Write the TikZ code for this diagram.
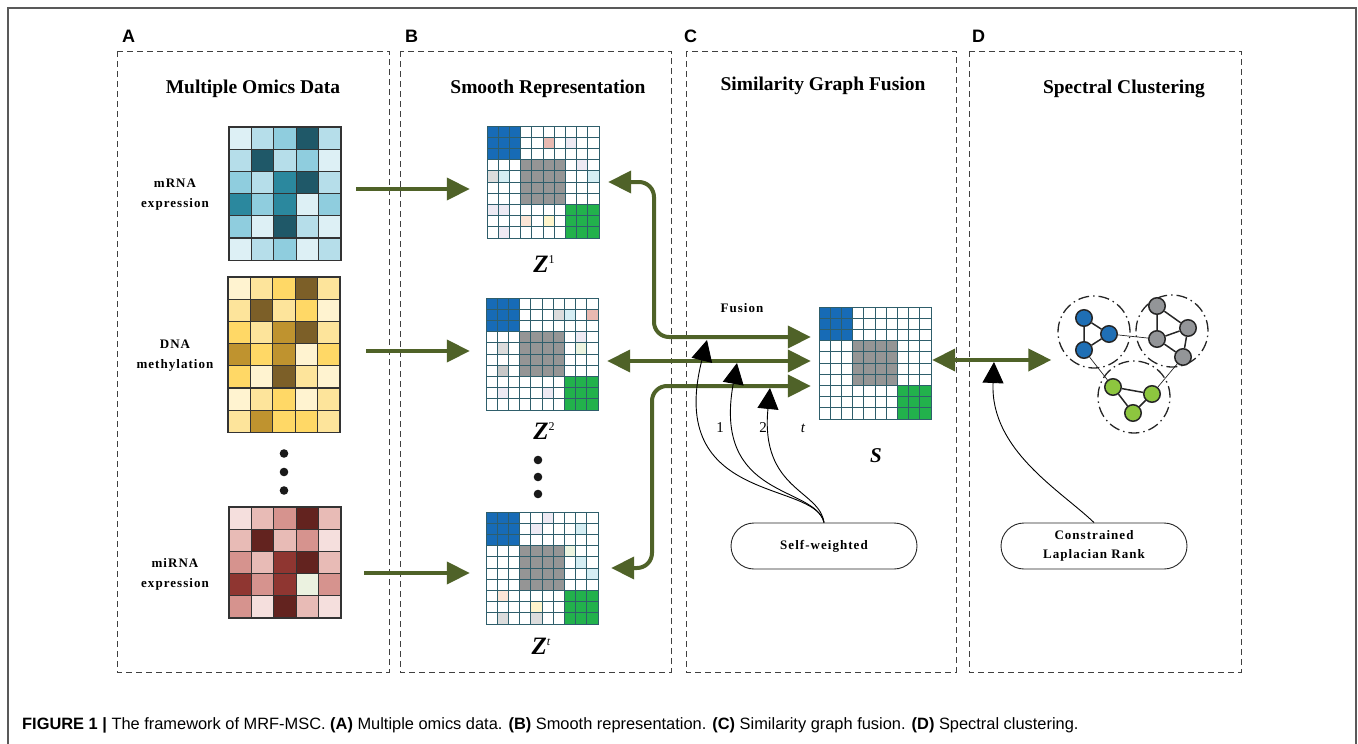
\documentclass[tikz,border=0pt]{standalone}
\usepackage{fontspec}
\setmainfont{Liberation Serif}
\newfontfamily\capfont{Liberation Sans}
\newfontfamily\spfont[LetterSpace=8]{Liberation Serif}
\usetikzlibrary{arrows.meta,shapes.misc}
\definecolor{olivec}{HTML}{4F6228}
\definecolor{gridc}{HTML}{2F5E6B}
\definecolor{mblue}{HTML}{176BB6}
\definecolor{mgray}{HTML}{959595}
\definecolor{mgreen}{HTML}{22B14C}
\definecolor{tA}{HTML}{DDF0F5}\definecolor{tB}{HTML}{B6DEEA}\definecolor{tC}{HTML}{8FCDDE}
\definecolor{tD}{HTML}{2B889E}\definecolor{tE}{HTML}{1F5868}
\definecolor{yA}{HTML}{FFF3D0}\definecolor{yB}{HTML}{FDE49B}\definecolor{yC}{HTML}{FFD866}
\definecolor{yD}{HTML}{BF932F}\definecolor{yE}{HTML}{7C5F28}
\definecolor{rA}{HTML}{F5DFDD}\definecolor{rB}{HTML}{E8BBB6}\definecolor{rC}{HTML}{D6938E}
\definecolor{rD}{HTML}{8F3631}\definecolor{rE}{HTML}{63231F}\definecolor{rF}{HTML}{EBF2E0}
\definecolor{fP}{HTML}{E8B9B1}\definecolor{fL}{HTML}{EEEAF3}\definecolor{fG}{HTML}{DCDCDC}
\definecolor{fC}{HTML}{D6EEF4}\definecolor{fE}{HTML}{FBE5D6}\definecolor{fY}{HTML}{FFF5CC}
\definecolor{fN}{HTML}{EDF4E0}\definecolor{fH}{HTML}{C8C8C8}
\definecolor{nblue}{HTML}{1F6FB5}\definecolor{ngray}{HTML}{939598}\definecolor{ngreen}{HTML}{8DC63F}
\tikzset{
 panel/.style={draw=black!75, dash pattern=on 6pt off 4pt, line width=0.9pt},
 panlab/.style={font=\capfont\bfseries\fontsize{18}{20}\selectfont, anchor=base west, inner sep=0},
 ttl/.style={font=\bfseries\fontsize{19.5}{22}\selectfont, anchor=base, inner sep=0},
 lab/.style={font=\spfont\bfseries\fontsize{13}{20}\selectfont, align=center, inner sep=0},
 hcell/.style={draw=black!80, line width=1.2pt},
 mcell/.style={draw=gridc, line width=1pt},
 fuse/.style={draw=olivec, line width=4pt, {Triangle[length=23pt,width=22pt]}-{Triangle[length=23pt,width=22pt]}, rounded corners=15pt},
 bigarr/.style={draw=olivec, line width=4pt, -{Triangle[length=23pt,width=22pt]}},
 thinarr/.style={draw=black, line width=0.9pt, -{Triangle[length=21pt,width=21pt]}},
 gn/.style={circle, draw=black!85, line width=1.5pt, minimum size=16.5pt, inner sep=0},
 gedge/.style={draw=black!85, line width=1.5pt},
 xedge/.style={draw=black!85, line width=0.7pt},
 cl/.style={circle, draw=black!85, line width=1.3pt, dash pattern=on 11pt off 4pt on 1.5pt off 4pt, minimum size=72pt, inner sep=0},
 zl/.style={inner sep=0, anchor=base},
 pill/.style={rounded rectangle, draw=black!85, line width=0.9pt, minimum width=186pt, minimum height=46pt, inner sep=0, font=\spfont\bfseries\fontsize{13}{19}\selectfont, align=center},
 dotc/.style={fill=black!90},
}
\newcommand\hmap[5]{%
 \foreach \rw [count=\r from 0] in {#5} {
   \foreach \cc [count=\k from 0] in \rw {
     \filldraw[hcell, fill=\cc] (#2+\k*22.4, #3+\r*22.2) rectangle ++(22.4,22.2);
   }
 }
 \node[inner sep=0, minimum width=112pt, minimum height=#4*22.2pt] (#1) at (#2+56, #3+#4*11.1) {};
}
\newcommand\smat[4]{%
 \begin{scope}[shift={(#2,#3)}]
  \fill[white] (0,0) rectangle (112,112);
  \fill[mblue] (0,0) rectangle (33.6,33.6);
  \fill[mgray] (33.6,33.6) rectangle (78.4,78.4);
  \fill[mgreen] (78.4,78.4) rectangle (112,112);
  \foreach \cc/\rr/\col in {#4} {\fill[\col] ({(\cc-1)*11.2},{(\rr-1)*11.2}) rectangle ++(11.2,11.2);}
  \foreach \i in {0,...,9} {\foreach \j in {0,...,9} {\draw[mcell] (\i*11.2,\j*11.2) rectangle ++(11.2,11.2);}}
 \end{scope}
 \node[inner sep=0, minimum size=112pt] (#1) at (#2+56,#3+56) {};
}
\newcommand\zfnt{\bfseries\itshape\fontsize{25}{25}\selectfont}
\newcommand\supfnt{\fontsize{12}{12}\selectfont}
\begin{document}
\begin{tikzpicture}[x=1pt,y=-1pt]
\useasboundingbox (0,0) rectangle (1358,744);
% outer frame
\draw[black!65, line width=1.5pt] (8,744) -- (8,8) -- (1356,8) -- (1356,744);
% panels
\draw[panel] (117,51) rectangle (389,672);
\draw[panel] (400,51) rectangle (671,672);
\draw[panel] (686,51) rectangle (956,672);
\draw[panel] (969,51) rectangle (1241,672);
\node[panlab] (la) at (122,42) {A};
\node[panlab] (lb) at (405,42) {B};
\node[panlab] (lc) at (684,42) {C};
\node[panlab] (ld) at (972,42) {D};
\node[ttl] (ta) at (253,93) {Multiple Omics Data};
\node[ttl] (tb) at (548,93) {Smooth Representation};
\node[ttl] (tc) at (823,90) {Similarity Graph Fusion};
\node[ttl] (td) at (1124,93) {Spectral Clustering};
% heatmaps
\hmap{h1}{229}{127}{6}{{tA,tB,tC,tE,tB},{tB,tE,tB,tC,tA},{tC,tB,tD,tE,tB},{tD,tC,tD,tA,tC},{tC,tA,tE,tB,tA},{tA,tB,tC,tA,tB}}
\hmap{h2}{228}{277}{7}{{yA,yB,yC,yE,yB},{yB,yE,yB,yC,yA},{yC,yB,yD,yE,yB},{yD,yC,yD,yA,yC},{yC,yA,yE,yB,yA},{yA,yB,yC,yA,yB},{yB,yD,yC,yC,yB}}
\hmap{h3}{229}{507}{5}{{rA,rB,rC,rE,rB},{rB,rE,rB,rC,rA},{rC,rB,rD,rE,rB},{rD,rC,rD,rF,rC},{rC,rA,rE,rB,rA}}
\node[lab] (l1) at (175,195) {mRNA\\expression};
\node[lab] (l2) at (175,356) {DNA\\methylation};
\node[lab] (l3) at (175,574) {miRNA\\expression};
\fill[dotc] (284,453.5) circle (4.3) (284,472) circle (4.3) (284,490.5) circle (4.3);
% smooth matrices
\smat{z1}{487}{126}{6/2/fP,8/2/fL,9/4/fL,1/5/fG,2/5/fC,10/5/fC,1/8/fL,2/8/fL,4/9/fE,6/9/fY,2/10/fL}
\smat{z2}{486}{298}{7/2/fG,8/2/fC,10/2/fP,9/4/fL,2/5/fG,9/5/fN,2/7/fH,2/9/fL,6/9/fL}
\smat{zt}{486}{512}{6/1/fL,5/2/fL,9/2/fC,8/4/fN,9/5/fC,10/6/fC,2/8/fE,5/9/fY,2/10/fG,5/10/fG}
\smat{s}{819}{307}{1/1/mblue}
\node[zl] (zl1) at (544,272) {{\zfnt Z}\raisebox{9pt}{\supfnt 1}};
\node[zl] (zl2) at (544,439) {{\zfnt Z}\raisebox{9pt}{\supfnt 2}};
\node[zl] (zl3) at (541,654) {{\zfnt Z}\raisebox{9pt}{\supfnt\itshape t}};
\node[zl] (sl) at (876,462) {\bfseries\itshape\fontsize{21}{21}\selectfont S};
\fill[dotc] (538,460) circle (4.3) (538,477) circle (4.3) (538,494) circle (4.3);
% A -> B arrows
\coordinate (a1) at (356,189);
\coordinate (a2) at (366,351);
\coordinate (a3) at (364,573);
\draw[bigarr, shorten >=17pt] (a1) -- (a1 -| z1.west);
\draw[bigarr, shorten >=16pt] (a2) -- (a2 -| z2.west);
\draw[bigarr, shorten >=16pt] (a3) -- (a3 -| zt.west);
% B <-> C arrows
\coordinate (v1) at (654,337);
\coordinate (v2) at (0,361);
\coordinate (v3) at (652,386);
\draw[fuse, shorten <=9pt, shorten >=8pt] (z1.east) -| (v1) -- (v1 -| s.west);
\draw[fuse, shorten <=9pt, shorten >=8pt] (z2.east |- v2) -- (s.west |- v2);
\draw[fuse, shorten <=13pt, shorten >=8pt] (zt.east) -| (v3) -- (v3 -| s.west);
\node[font=\spfont\bfseries\fontsize{13}{13}\selectfont, anchor=base, inner sep=0] (fu) at (742,312) {Fusion};
% C <-> D
\node[cl] (cb) at (1094,332) {};
\node[cl] (cg) at (1172,331) {};
\node[cl] (cn) at (1134,397) {};
\coordinate (v4) at (0,360);
\draw[fuse, shorten <=1pt, shorten >=6pt] (s.east |- v4) -- (cb.west |- v4);
% self-weighted
\node[pill] (sw) at (824,546) {Self-weighted};
\coordinate (f1) at (707,340);
\coordinate (f2) at (737,363);
\coordinate (f3) at (770,388);
\draw[thinarr] (sw.north) .. controls (815,480) and (665,505) .. (f1);
\draw[thinarr] (sw.north) .. controls (815,485) and (712,500) .. (f2);
\draw[thinarr] (sw.north) .. controls (820,490) and (760,490) .. (f3);
\node[font=\fontsize{15}{15}\selectfont, anchor=base, inner sep=0] (n1) at (720,432) {1};
\node[font=\fontsize{15}{15}\selectfont, anchor=base, inner sep=0] (n2) at (763,432) {2};
\node[font=\itshape\fontsize{15}{15}\selectfont, anchor=base, inner sep=0] (n3) at (803,432) {t};
% constrained laplacian rank
\node[pill] (clr) at (1094,546) {Constrained\\Laplacian Rank};
\coordinate (f4) at (994,362);
\draw[thinarr] (clr.north) .. controls (1060,490) and (990,450) .. (f4);
% graph
\node[gn, fill=nblue] (b1) at (1084,318) {};
\node[gn, fill=nblue] (b2) at (1109,334) {};
\node[gn, fill=nblue] (b3) at (1084,350) {};
\node[gn, fill=ngray] (g1) at (1157,306) {};
\node[gn, fill=ngray] (g2) at (1188,328) {};
\node[gn, fill=ngray] (g3) at (1157,339) {};
\node[gn, fill=ngray] (g4) at (1183,357) {};
\node[gn, fill=ngreen] (e1) at (1113,387) {};
\node[gn, fill=ngreen] (e2) at (1152,394) {};
\node[gn, fill=ngreen] (e3) at (1133,413) {};
\draw[gedge] (b1) -- (b2) (b2) -- (b3) (b1) -- (b3);
\draw[gedge] (g1) -- (g2) (g1) -- (g3) (g3) -- (g2) (g3) -- (g4) (g2) -- (g4);
\draw[gedge] (e1) -- (e2) (e1) -- (e3) (e2) -- (e3);
\draw[xedge] (b2) -- (g3) (b3) -- (e1) (g4) -- (e2);
% caption
\node[anchor=base west, inner sep=0, font=\capfont\fontsize{16.4}{17}\selectfont] (cap) at (22,729) {\textbf{FIGURE 1 |} The framework of MRF-MSC. \textbf{(A)} Multiple omics data. \textbf{(B)} Smooth representation. \textbf{(C)} Similarity graph fusion. \textbf{(D)} Spectral clustering.};
\end{tikzpicture}
\end{document}
